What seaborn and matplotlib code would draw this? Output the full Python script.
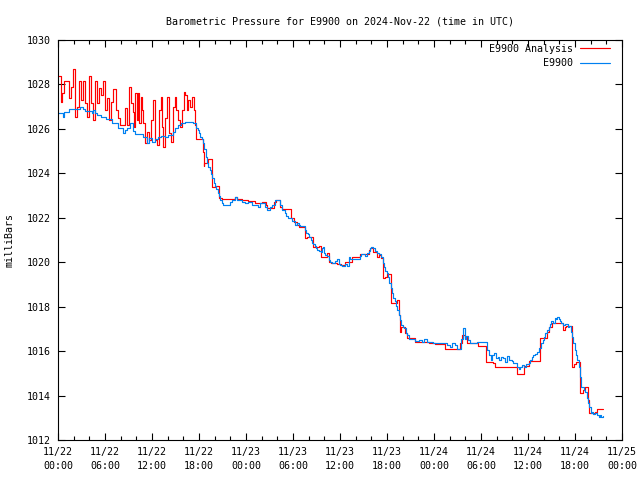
import numpy as np
import pandas as pd
import matplotlib
matplotlib.use('Agg')
import matplotlib.pyplot as plt
import matplotlib.dates as mdates
from matplotlib.lines import Line2D
import seaborn as sns

# hours after 2024-11-22 00:00 UTC, pressure in millibars
start = pd.Timestamp('2024-11-22 00:00')

analysis_hours = [
    0.0, 0.34, 0.51, 0.77, 1.36, 1.62, 1.87, 2.21, 2.47, 2.72, 2.89, 3.15, 3.40, 3.66, 3.91,
    4.17, 4.43, 4.77, 4.94, 5.19, 5.45, 5.70, 5.96, 6.21, 6.47, 6.72, 6.98, 7.40, 7.66, 7.91,
    8.51, 8.77, 9.02, 9.11, 9.28, 9.53, 9.70, 9.87, 10.04, 10.21, 10.38, 10.55, 10.72, 10.89,
    11.06, 11.32, 11.57, 11.92, 12.17, 12.34, 12.60, 12.85, 13.11, 13.28, 13.45, 13.62, 13.87,
    14.21, 14.38, 14.64, 14.89, 15.06, 15.32, 15.57, 15.83, 16.09, 16.26, 16.43, 16.60, 16.85,
    17.11, 17.36, 17.49, 17.62, 18.51, 18.60, 18.68, 19.11, 19.62, 20.04, 20.55, 20.89, 22.6,
    22.85, 23.45, 24.3, 25.15, 26.0, 26.51, 26.68, 27.53, 27.79, 28.38, 28.64, 29.74, 30.08,
    30.51, 30.77, 31.58, 31.75, 32.6, 33.28, 33.62, 34.3, 34.64, 34.81, 35.67, 36.18, 36.69,
    37.54, 38.56, 39.67, 39.84, 40.26, 40.69, 40.94, 41.28, 41.54, 41.79, 42.05, 42.56, 43.24,
    43.49, 43.67, 43.84, 44.35, 44.6, 45.62, 47.32, 48.17, 49.45, 51.32, 51.57, 51.91, 52.17,
    53.62, 54.64, 55.57, 55.83, 58.56, 59.49, 60.09, 61.54, 62.39, 62.64, 63.07, 64.51, 64.68,
    64.85, 65.62, 65.88, 66.13, 66.64, 67.07, 67.32, 67.66, 67.83, 68.51, 68.77, 68.94, 69.6,
]
analysis_mbar = [
    1028.38, 1027.22, 1027.6, 1028.17, 1027.38, 1027.9, 1028.68, 1026.55, 1027.0, 1028.17,
    1027.3, 1028.17, 1027.15, 1026.55, 1028.38, 1027.15, 1026.4, 1028.17, 1027.15, 1027.82,
    1027.52, 1028.17, 1026.85, 1027.38, 1026.4, 1027.22, 1027.78, 1026.85, 1026.48, 1026.18,
    1026.92, 1026.18, 1027.15, 1027.9, 1027.15, 1026.78, 1026.1, 1027.6, 1026.4, 1027.6,
    1026.25, 1027.45, 1026.85, 1026.25, 1025.35, 1025.88, 1025.5, 1026.4, 1027.3, 1025.5,
    1025.28, 1026.85, 1027.45, 1026.1, 1025.2, 1026.48, 1027.45, 1025.8, 1025.42, 1027.0,
    1027.45, 1026.85, 1026.4, 1026.1, 1026.85, 1027.68, 1027.52, 1026.85, 1027.3, 1027.0,
    1027.45, 1026.85, 1026.17, 1025.55, 1024.98, 1024.33, 1024.48, 1024.63, 1023.4, 1023.43,
    1022.88, 1022.83, 1022.92, 1022.86, 1022.8, 1022.74, 1022.68, 1022.73, 1022.58, 1022.43,
    1022.73, 1022.8, 1022.5, 1022.38, 1021.98, 1021.83, 1021.68, 1021.6, 1021.08, 1021.12,
    1020.7, 1020.73, 1020.25, 1020.43, 1020.03, 1019.95, 1019.9, 1019.88, 1020.0, 1020.22,
    1020.37, 1020.55, 1020.63, 1020.48, 1020.22, 1020.33, 1020.18, 1019.28, 1019.35, 1019.47,
    1018.15, 1018.3, 1017.63, 1016.88, 1017.07, 1016.8, 1016.58, 1016.4, 1016.35, 1016.3,
    1016.1, 1016.35, 1016.72, 1016.65, 1016.38, 1016.25, 1015.52, 1015.45, 1015.3, 1014.97,
    1015.33, 1015.55, 1016.58, 1016.88, 1017.07, 1017.28, 1016.95, 1017.07, 1017.13, 1015.3,
    1015.42, 1015.53, 1014.1, 1014.25, 1014.37, 1013.8, 1013.2, 1013.26, 1013.38, 1013.41,
    1013.41,
]

station_hours = [
    0.0, 0.6, 0.77, 1.45, 2.81, 3.15, 3.49, 4.34, 4.51, 4.77, 5.02, 5.49, 6.13, 6.89, 7.62,
    8.26, 8.51, 8.85, 9.19, 9.53, 9.79, 10.89, 11.32, 11.57, 12.0, 12.34, 12.77, 13.19, 13.7,
    14.04, 14.64, 14.89, 15.32, 15.74, 16.17, 17.28, 17.62, 17.83, 18.0, 18.17, 18.34, 18.51,
    18.68, 18.85, 19.02, 19.19, 19.36, 19.53, 19.70, 19.87, 20.04, 20.21, 20.38, 20.55, 20.72,
    20.89, 21.11, 22.0, 22.26, 22.6, 22.85, 23.45, 23.87, 24.3, 24.72, 25.57, 25.83, 26.43,
    26.68, 27.02, 27.36, 27.7, 28.38, 28.64, 28.98, 29.15, 29.4, 29.83, 30.26, 30.51, 30.77,
    30.9, 31.5, 31.67, 31.92, 32.09, 32.26, 32.43, 32.6, 32.77, 32.94, 33.11, 33.37, 33.54,
    33.71, 33.88, 33.96, 34.13, 34.3, 34.56, 34.73, 34.98, 35.33, 35.58, 35.84, 36.01, 36.26,
    36.6, 36.86, 37.11, 37.28, 38.56, 38.73, 39.24, 39.41, 39.67, 39.84, 40.01, 40.18, 40.43,
    40.69, 40.94, 41.2, 41.45, 41.62, 41.79, 41.96, 42.13, 42.3, 42.47, 42.64, 42.81, 42.98,
    43.15, 43.32, 43.49, 43.67, 43.84, 44.01, 44.18, 44.43, 44.6, 44.77, 45.62, 46.04, 46.47,
    46.72, 47.06, 47.92, 48.34, 48.77, 49.02, 49.45, 49.7, 50.04, 50.3, 50.64, 50.89, 51.49,
    51.74, 51.91, 52.08, 52.34, 52.6, 53.45, 54.81, 54.98, 55.23, 55.4, 55.66, 55.91, 56.17,
    56.34, 56.6, 56.85, 57.11, 57.28, 57.53, 57.96, 58.13, 58.56, 58.81, 58.98, 59.24, 59.49,
    59.75, 60.09, 60.26, 60.51, 60.69, 60.94, 61.2, 61.45, 61.71, 61.88, 62.05, 62.22, 62.39,
    62.64, 62.81, 62.98, 63.15, 63.41, 63.58, 63.75, 63.92, 64.09, 64.26, 64.51, 64.77, 65.11,
    65.28, 65.45, 65.62, 65.79, 65.96, 66.13, 66.3, 66.47, 66.64, 66.81, 67.15, 67.32, 67.49,
    67.66, 67.83, 68.0, 68.17, 68.34, 68.6, 68.77, 69.02, 69.2, 69.37, 69.54, 69.6,
]
station_mbar = [
    1026.7, 1026.52, 1026.75, 1026.9, 1027.0, 1026.88, 1026.82, 1026.73, 1026.85, 1026.73,
    1026.62, 1026.55, 1026.43, 1026.25, 1026.02, 1025.8, 1025.95, 1026.02, 1026.25, 1025.92,
    1025.77, 1025.62, 1025.35, 1025.58, 1025.43, 1025.53, 1025.62, 1025.68, 1025.62, 1025.73,
    1025.88, 1026.02, 1026.18, 1026.25, 1026.33, 1026.25, 1026.02, 1025.95, 1025.8, 1025.65,
    1025.53, 1025.35, 1025.08, 1024.75, 1024.45, 1024.3, 1024.15, 1023.97, 1023.78, 1023.55,
    1023.43, 1023.28, 1023.13, 1022.98, 1022.8, 1022.68, 1022.58, 1022.73, 1022.8, 1022.92,
    1022.8, 1022.73, 1022.65, 1022.73, 1022.58, 1022.5, 1022.68, 1022.47, 1022.35, 1022.5,
    1022.58, 1022.8, 1022.58, 1022.35, 1022.2, 1022.08, 1021.98, 1021.87, 1021.68, 1021.78,
    1021.68, 1021.63, 1021.45, 1021.33, 1021.27, 1021.15, 1021.0, 1020.88, 1020.82, 1020.73,
    1020.63, 1020.55, 1020.52, 1020.48, 1020.63, 1020.7, 1020.4, 1020.33, 1020.28, 1020.1,
    1020.01, 1019.95, 1020.06, 1020.13, 1019.92, 1019.86, 1019.83, 1019.92, 1019.83, 1020.22,
    1020.16, 1020.28, 1020.36, 1020.3, 1020.4, 1020.52, 1020.63, 1020.7, 1020.63, 1020.52,
    1020.4, 1020.37, 1020.25, 1019.98, 1019.8, 1019.62, 1019.5, 1019.32, 1019.08, 1018.83,
    1018.6, 1018.38, 1018.27, 1018.03, 1017.85, 1017.63, 1017.4, 1017.18, 1017.07, 1017.03,
    1016.83, 1016.73, 1016.53, 1016.47, 1016.5, 1016.4, 1016.53, 1016.43, 1016.38, 1016.35,
    1016.38, 1016.35, 1016.38, 1016.28, 1016.2, 1016.35, 1016.28, 1016.08, 1016.53, 1017.03,
    1016.53, 1016.68, 1016.5, 1016.38, 1016.43, 1016.05, 1015.83, 1015.6, 1015.83, 1015.93,
    1015.68, 1015.75, 1015.6, 1015.75, 1015.68, 1015.53, 1015.78, 1015.6, 1015.57, 1015.45,
    1015.3, 1015.18, 1015.3, 1015.38, 1015.3, 1015.4, 1015.45, 1015.6, 1015.72, 1015.83,
    1015.87, 1015.98, 1016.13, 1016.35, 1016.5, 1016.62, 1016.8, 1016.95, 1017.07, 1017.22,
    1017.37, 1017.28, 1017.48, 1017.43, 1017.52, 1017.43, 1017.36, 1017.25, 1017.18, 1017.22,
    1017.07, 1017.13, 1016.88, 1016.65, 1016.35, 1016.05, 1015.83, 1015.6, 1015.3, 1014.82,
    1014.37, 1014.25, 1014.18, 1013.88, 1013.65, 1013.47, 1013.2, 1013.28, 1013.17, 1013.23,
    1013.13, 1013.05, 1013.13, 1013.02, 1013.08, 1013.08,
]

series_names = ['E9900 Analysis', 'E9900']
series_colors = ['#ff0000', '#0080f0']

sns.set_theme(style='ticks')
plt.rcParams['font.family'] = ['DejaVu Sans Mono']
plt.rcParams['text.color'] = 'black'
plt.rcParams['xtick.color'] = 'black'
plt.rcParams['ytick.color'] = 'black'
fs = 7.2

frames = []
for name, hrs, vals in [(series_names[0], analysis_hours, analysis_mbar),
                        (series_names[1], station_hours, station_mbar)]:
    frames.append(pd.DataFrame({
        'time': start + pd.to_timedelta(np.array(hrs), unit='h'),
        'mbar': vals,
        'series': name,
    }))
df = pd.concat(frames, ignore_index=True)

fig = plt.figure(figsize=(6.4, 4.8), dpi=100)
ax = fig.add_axes([58/640, 40/480, 564/640, 400/480])

sns.lineplot(data=df, x='time', y='mbar', hue='series', hue_order=series_names,
             palette=dict(zip(series_names, series_colors)), estimator=None, sort=False,
             drawstyle='steps-post', lw=0.85, legend=False, ax=ax)

ax.set_xlim(start, start + pd.Timedelta(hours=72))
ax.set_ylim(1012, 1030)
ax.set_yticks(np.arange(1012, 1031, 2))
ax.xaxis.set_major_locator(mdates.HourLocator(byhour=[0, 6, 12, 18]))
ax.xaxis.set_minor_locator(mdates.HourLocator(byhour=range(0, 24, 2)))
ax.xaxis.set_major_formatter(mdates.DateFormatter('%m/%d\n%H:%M'))

ax.tick_params(which='both', direction='in', top=True, right=True, width=0.8, color='black')
ax.tick_params(which='major', length=5, pad=5, labelsize=fs)
ax.tick_params(which='minor', length=3)
for sp in ax.spines.values():
    sp.set_color('black')
    sp.set_linewidth(0.8)

ax.set_xlabel('')
ax.set_ylabel('')
fig.text(10/640, 0.5, 'milliBars', rotation=90, ha='center', va='center', fontsize=fs)
ax.set_title('Barometric Pressure for E9900 on 2024-Nov-22 (time in UTC)', fontsize=fs, pad=11)

handles = [Line2D([], [], color=c, lw=0.85) for c in series_colors]
labels = [series_names[0], series_names[1].rjust(len(series_names[0]))]
ax.legend(handles, labels, loc='upper right', bbox_to_anchor=(0.9787, 0.99), frameon=False,
          markerfirst=False, handlelength=3.0, handletextpad=0.7, labelspacing=0.45,
          borderpad=0, borderaxespad=0, fontsize=fs)

fig.canvas.draw()
for lbl in ax.get_xticklabels():
    lbl.set_linespacing(1.5)

fig.savefig('out.png', dpi=100)
